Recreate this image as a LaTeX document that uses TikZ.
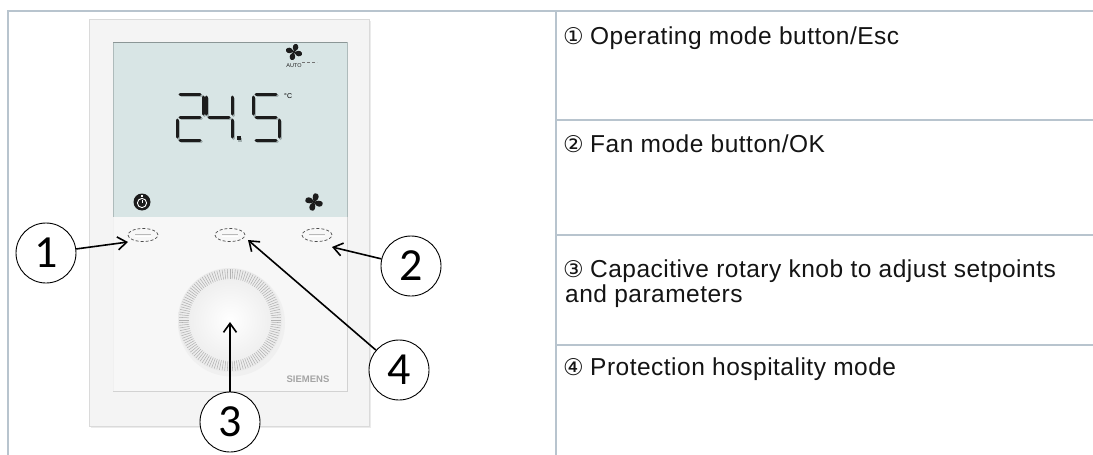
\documentclass[tikz,border=0pt]{standalone}
\usepackage{fontspec}
\setmainfont{Liberation Sans}
\newfontfamily\circfont{DejaVu Sans}
\newfontfamily\calloutfont{Carlito}
\newfontfamily\descfont{Liberation Sans}[LetterSpace=2]
\usetikzlibrary{arrows.meta,shapes.geometric}

\definecolor{tablerule}{HTML}{B8C4CE}
\definecolor{framefill}{HTML}{F4F4F4}
\definecolor{frameedge}{HTML}{DADADA}
\definecolor{lcdfill}{HTML}{D8E5E5}
\definecolor{lcdedge}{HTML}{AEBBBB}
\definecolor{panelfill}{HTML}{F7F7F7}
\definecolor{paneledge}{HTML}{D2D2D2}
\definecolor{segdark}{HTML}{1C1C1C}
\definecolor{segshadow}{HTML}{A3B0B0}
\definecolor{tickgray}{HTML}{B2B2B2}
\definecolor{brandgray}{HTML}{A5A5A5}

\tikzset{
  gridline/.style={draw=tablerule, line width=2pt},
  desctext/.style={anchor=base west, inner sep=0pt, text=black!92,
    font=\descfont\fontsize{24.5}{28}\selectfont},
  circnum/.style={anchor=base west, inner sep=0pt, text=black!92,
    font=\circfont\fontsize{23}{28}\selectfont},
  callout/.style={circle, draw=black, line width=0.9pt, fill=white,
    minimum size=60pt, inner sep=0pt,
    font=\calloutfont\fontsize{46}{46}\selectfont},
  callarrow/.style={line width=1.6pt, -{Straight Barb[length=9pt,width=13pt]}},
  btnring/.style={ellipse, draw=black!70, dashed, dash pattern=on 3pt off 2pt,
    line width=0.7pt, minimum width=30pt, minimum height=13pt, inner sep=0pt},
  lseg/.style={line width=3pt, line cap=round},
  % seven-segment pieces, digit box 26 x 46
  segA/.pic={\draw[lseg] (3,0)--(23,0);},
  segB/.pic={\draw[lseg] (26,3)--(26,20);},
  segC/.pic={\draw[lseg] (26,26)--(26,43);},
  segD/.pic={\draw[lseg] (3,46)--(23,46);},
  segE/.pic={\draw[lseg] (0,26)--(0,43);},
  segF/.pic={\draw[lseg] (0,3)--(0,20);},
  segG/.pic={\draw[lseg] (3,23)--(23,23);},
  fanicon/.pic={
    \foreach \a in {0,90,180,270}{
      \fill[rotate=\a] (0,0) .. controls (-1.2,-2.5) and (-2.2,-6.5) .. (0.8,-8)
        .. controls (4,-8.6) and (5.4,-5) .. (3.4,-2.4)
        .. controls (2.4,-1.2) and (1.2,-0.4) .. (0,0);
    }
    \fill (0,0) circle (1.4pt);
  },
}

\newcommand\lcddigit[3]{%
  \foreach \s in {#3}{\pic[color=segshadow] at (#1+1.4,#2+1.6) {seg\s};}
  \foreach \s in {#3}{\pic[color=segdark] at (#1,#2) {seg\s};}
}

\begin{document}
\begin{tikzpicture}[x=1pt,y=-1pt]
\useasboundingbox (0,0) rectangle (1093,455);
\fill[white] (0,0) rectangle (1093,455);

% table rules
\draw[gridline] (8,455) -- (8,11) -- (1093,11);
\draw[gridline] (556,11) -- (556,455);
\foreach \y in {120,235,345} \draw[gridline] (556,\y) -- (1093,\y);

% descriptions
\node[circnum] (n1) at (563,44) {①};
\node[desctext] (d1) at (590,44) {Operating mode button/Esc};
\node[circnum] (n2) at (563,152) {②};
\node[desctext] (d2) at (590,152) {Fan mode button/OK};
\node[circnum] (n3) at (563,277) {③};
\node[desctext] (d3) at (590,277) {Capacitive rotary knob to adjust setpoints};
\node[desctext] (d3b) at (565,302) {and parameters};
\node[circnum] (n4) at (563,375) {④};
\node[desctext] (d4) at (590,375) {Protection hospitality mode};

% device frame
\fill[black!8] (90.5,20.5) rectangle (370.5,427.5);
\draw[frameedge, fill=framefill, line width=0.8pt] (89,19) rectangle (369,426);
% display window
\draw[lcdedge, fill=lcdfill, line width=0.8pt] (113,42) rectangle (347,217);
\draw[lcdedge!80!black, line width=1pt] (113,42.5) -- (347,42.5);
% lower touch panel
\fill[panelfill] (113.4,217) rectangle (346.6,391);
\draw[paneledge, line width=1pt] (113,391) -- (347,391) -- (347,217);
\draw[black!6, line width=0.8pt] (113.4,217) -- (113.4,391);

% temperature reading
\lcddigit{177}{94}{A,B,G,E,D}
\lcddigit{206}{94}{F,G,B,C}
\fill[segshadow] (238.4,137.6) rectangle (242.4,141.6);
\fill[segdark] (237,136) rectangle (241,140);
\lcddigit{253}{94}{A,F,G,C,D}
\node[anchor=north west, inner sep=0pt, font=\fontsize{7}{7}\selectfont] (unit) at (284,93) {°C};

% fan symbol with auto mode
\pic[color=segdark] at (294,52) {fanicon};
\node[inner sep=0pt, font=\fontsize{5.5}{6}\selectfont, text=segdark] (auto) at (294,65.5) {AUTO};
\draw[black!55, line width=0.7pt, dash pattern=on 3pt off 2pt] (302,62) -- (317,62);

% timer and fan symbols above the buttons
\fill[segdark] (142,202) circle (8.5pt);
\draw[white, line width=0.9pt] (142,203) circle (4.6pt);
\draw[white, line width=0.9pt] (142,203) -- (142,199.5);
\fill[white] (141.2,194.6) rectangle (142.8,196.6);
\pic[color=segdark, scale=1.08] at (314,202) {fanicon};

% touch buttons
\foreach \n/\x in {e1/143,e2/230,e3/317}{
  \draw[black!28, line width=1.4pt] (\x-8,234.5) -- (\x+8,234.5);
  \draw[white, line width=0.8pt] (\x-8,236.2) -- (\x+8,236.2);
  \node[btnring] (\n) at (\x,235) {};
}

% rotary knob
\fill[black!6] (231.5,323) circle (53.5pt);
\shade[inner color=white, outer color=black!8] (230,320) circle (52pt);
\foreach \a in {0,3,...,357}
  \draw[tickgray, line width=0.55pt] (230,320) ++(\a:41pt) -- ++(\a:10pt);
\shade[inner color=white, outer color=white!94!black] (230,320) circle (39pt);

% brand
\node[inner sep=0pt, text=brandgray, font=\bfseries\fontsize{9.5}{10}\selectfont] (brand) at (308,379) {SIEMENS};

% callout targets
\coordinate (t1) at (128,242);
\coordinate (t2) at (332,247);
\coordinate (t3) at (230,322);
\coordinate (t4) at (248,240);

% callout markers
\node[callout] (c1) at (46,253) {1};
\node[callout] (c2) at (411,266) {2};
\node[callout] (c3) at (230,422) {3};
\node[callout] (c4) at (399,370) {4};

\draw[callarrow] (c1) -- (t1);
\draw[callarrow] (c2) -- (t2);
\draw[callarrow] (c3) -- (t3);
\draw[callarrow] (c4) -- (t4);
\end{tikzpicture}
\end{document}
